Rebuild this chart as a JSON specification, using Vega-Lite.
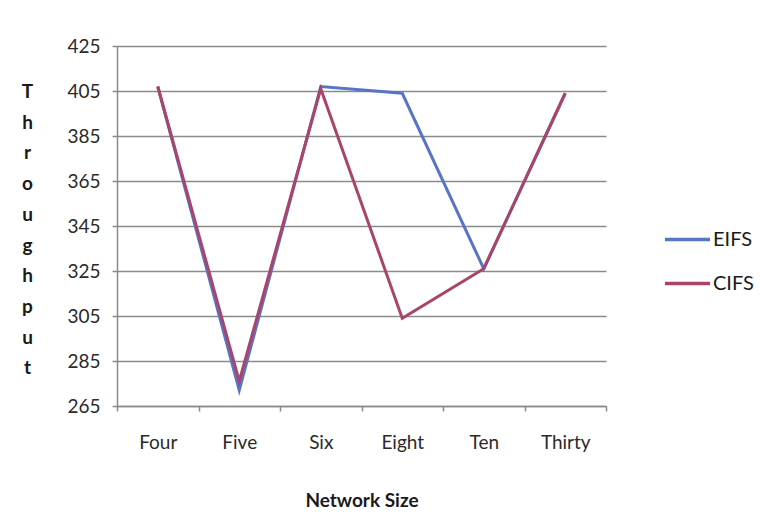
{
  "$schema": "https://vega.github.io/schema/vega-lite/v6.json",
  "width": 489,
  "height": 360,
  "autosize": {"type": "none"},
  "padding": {"left": 117, "top": 46, "right": 154, "bottom": 109},
  "background": "white",
  "data": {
    "values": [
      {"size": "Four", "series": "EIFS", "throughput": 407},
      {"size": "Five", "series": "EIFS", "throughput": 272},
      {"size": "Six", "series": "EIFS", "throughput": 407},
      {"size": "Eight", "series": "EIFS", "throughput": 404},
      {"size": "Ten", "series": "EIFS", "throughput": 326},
      {"size": "Thirty", "series": "EIFS", "throughput": 404},
      {"size": "Four", "series": "CIFS", "throughput": 407},
      {"size": "Five", "series": "CIFS", "throughput": 276},
      {"size": "Six", "series": "CIFS", "throughput": 406},
      {"size": "Eight", "series": "CIFS", "throughput": 304},
      {"size": "Ten", "series": "CIFS", "throughput": 326},
      {"size": "Thirty", "series": "CIFS", "throughput": 404}
    ]
  },
  "mark": {"type": "line", "strokeWidth": 3},
  "encoding": {
    "x": {
      "field": "size",
      "type": "nominal",
      "sort": ["Four", "Five", "Six", "Eight", "Ten", "Thirty"],
      "scale": {"type": "band", "paddingInner": 0, "paddingOuter": 0},
      "axis": {
        "title": "Network Size",
        "titleFont": "Lato",
        "titleFontSize": 19,
        "titleFontWeight": "bold",
        "titleColor": "#1a1a1a",
        "titleBaseline": "alphabetic",
        "titleY": 100,
        "labelAngle": 0,
        "labelFont": "Lato",
        "labelFontSize": 19,
        "labelColor": "#2a2a2a",
        "labelBaseline": "alphabetic",
        "labelPadding": 37,
        "tickBand": "extent",
        "tickSize": 5,
        "tickColor": "#8a8a8a",
        "tickWidth": 1.5,
        "domainColor": "#8a8a8a",
        "domainWidth": 1.5,
        "grid": false
      }
    },
    "y": {
      "field": "throughput",
      "type": "quantitative",
      "scale": {"domain": [265, 425], "nice": false, "zero": false},
      "axis": {
        "values": [265, 285, 305, 325, 345, 365, 385, 405, 425],
        "title": ["T", "h", "r", "o", "u", "g", "h", "p", "u", "t"],
        "titleAngle": 0,
        "titleFont": "Lato",
        "titleFontSize": 19,
        "titleFontWeight": "bold",
        "titleColor": "#1a1a1a",
        "titleAlign": "center",
        "titleBaseline": "middle",
        "titleLineHeight": 30.7,
        "titleX": -90,
        "titleY": 45.5,
        "labelFont": "Lato",
        "labelFontSize": 19,
        "labelColor": "#2a2a2a",
        "labelPadding": 12,
        "tickSize": 5,
        "tickColor": "#8a8a8a",
        "tickWidth": 1.5,
        "domainColor": "#8a8a8a",
        "domainWidth": 1.5,
        "grid": true,
        "gridColor": "#8a8a8a",
        "gridWidth": 1.5
      }
    },
    "color": {
      "field": "series",
      "type": "nominal",
      "scale": {"domain": ["EIFS", "CIFS"], "range": ["#5875C4", "#A9446B"]},
      "legend": {
        "title": null,
        "orient": "none",
        "legendX": 546,
        "legendY": 169,
        "padding": 0,
        "symbolType": "stroke",
        "symbolSize": 2025,
        "symbolStrokeWidth": 3.5,
        "labelFont": "Lato",
        "labelFontSize": 20,
        "labelColor": "#1a1a1a",
        "labelOffset": 1,
        "rowPadding": 9
      }
    }
  },
  "config": {"view": {"stroke": null}}
}
